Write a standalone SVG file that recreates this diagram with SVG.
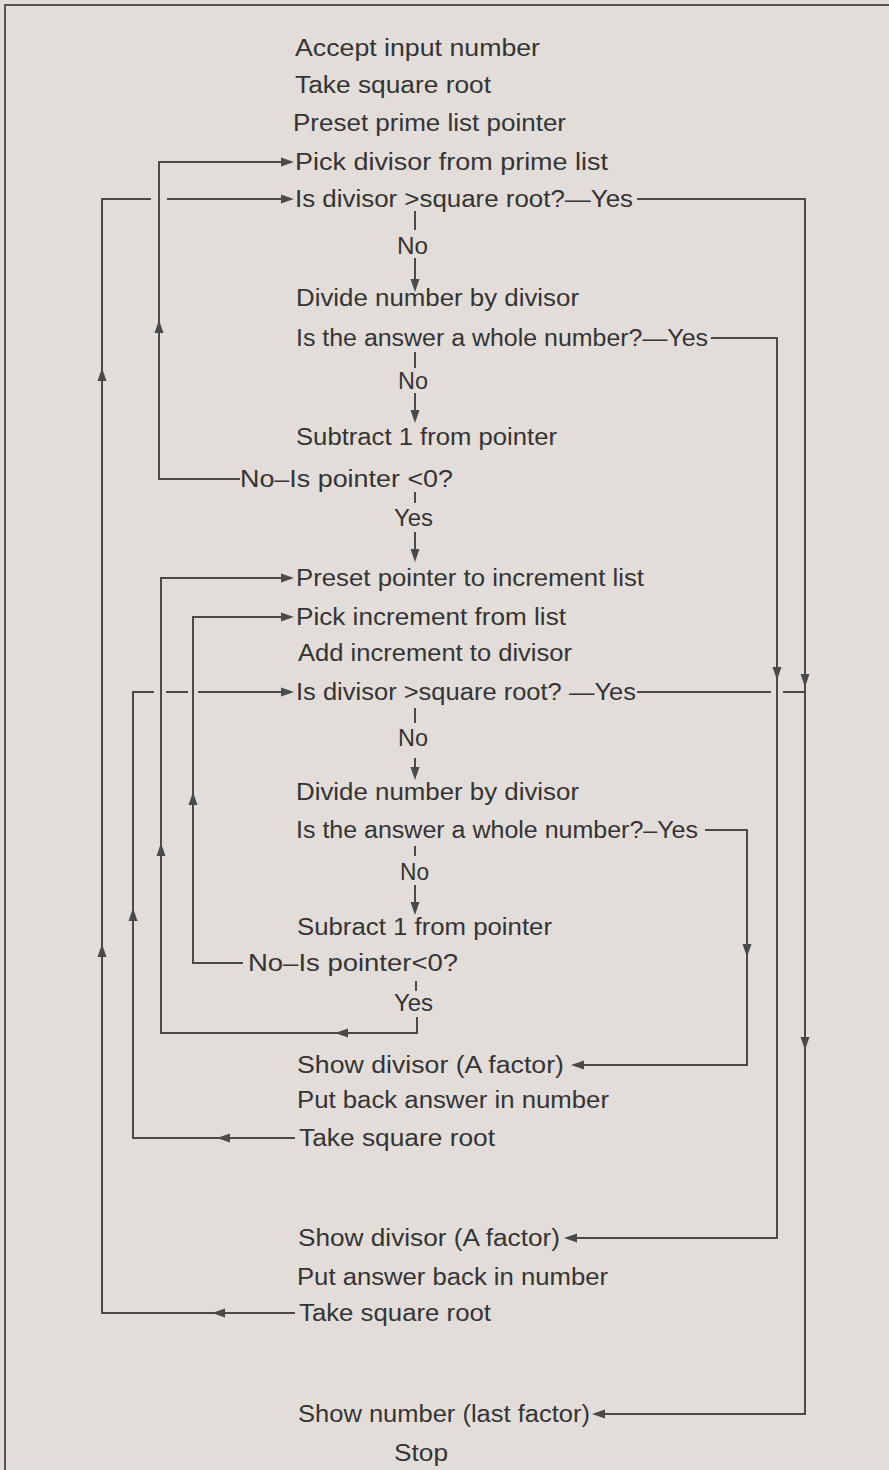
<svg xmlns="http://www.w3.org/2000/svg" xmlns:xlink="http://www.w3.org/1999/xlink" width="889" height="1470" viewBox="0 0 889 1470">
<style>
.t{font-family:"Liberation Sans",Arial,Helvetica,sans-serif;font-size:23px;fill:#343434;}
.c{fill:none;stroke:#4a4a4a;stroke-width:2;}
.ah{fill:#4a4a4a;}
.frame{fill:none;stroke:#555;stroke-width:2;}
</style>
<defs>
<path id="tri" class="ah" d="M0,0 L-13,-4.5 L-13,4.5 Z"/>
</defs>
<rect x="0" y="0" width="889" height="1470" fill="#e3ddd9"/>
<path class="frame" d="M5,1470 V5 H889"/>

<g id="connectors">
<!-- prime list loop -->
<path class="c" d="M240,479 H159 V162 H285"/>
<use xlink:href="#tri" transform="translate(294,162)"/>
<use xlink:href="#tri" transform="translate(159,320) rotate(-90)"/>
<path class="c" d="M295,1313 H102 V199 H151"/>
<path class="c" d="M167,199 H285"/>
<use xlink:href="#tri" transform="translate(294,199)"/>
<use xlink:href="#tri" transform="translate(102,368) rotate(-90)"/>
<use xlink:href="#tri" transform="translate(102,944) rotate(-90)"/>
<use xlink:href="#tri" transform="translate(212,1313) rotate(180)"/>
<!-- No from first test -->
<path class="c" d="M415,211 V230"/>
<path class="c" d="M415,258 V283"/>
<use xlink:href="#tri" transform="translate(415,292) rotate(90)"/>
<!-- Yes from first test -->
<path class="c" d="M637,199 H805 V1414 H600"/>
<use xlink:href="#tri" transform="translate(805,687) rotate(90)"/>
<use xlink:href="#tri" transform="translate(805,1050) rotate(90)"/>
<use xlink:href="#tri" transform="translate(592,1414) rotate(180)"/>
<!-- whole number 1 -->
<path class="c" d="M415,352 V368"/>
<path class="c" d="M415,393 V414"/>
<use xlink:href="#tri" transform="translate(415,423) rotate(90)"/>
<path class="c" d="M711,338 H777 V1238 H573"/>
<use xlink:href="#tri" transform="translate(777,680) rotate(90)"/>
<use xlink:href="#tri" transform="translate(564,1238) rotate(180)"/>
<!-- pointer test 1 -->
<path class="c" d="M415,492 V503"/>
<path class="c" d="M415,532 V553"/>
<use xlink:href="#tri" transform="translate(415,562) rotate(90)"/>

<!-- increment loop -->
<path class="c" d="M417,1017 V1033 H161 V578 H285"/>
<use xlink:href="#tri" transform="translate(294,578)"/>
<use xlink:href="#tri" transform="translate(335,1033) rotate(180)"/>
<use xlink:href="#tri" transform="translate(161,843) rotate(-90)"/>
<path class="c" d="M243,963 H193 V617 H285"/>
<use xlink:href="#tri" transform="translate(294,617)"/>
<use xlink:href="#tri" transform="translate(193,792) rotate(-90)"/>
<path class="c" d="M295,1138 H133 V692 H154"/>
<path class="c" d="M166,692 H188"/>
<path class="c" d="M198,692 H285"/>
<use xlink:href="#tri" transform="translate(294,692)"/>
<use xlink:href="#tri" transform="translate(217,1138) rotate(180)"/>
<use xlink:href="#tri" transform="translate(133,908) rotate(-90)"/>
<!-- second test -->
<path class="c" d="M415,708 V723"/>
<path class="c" d="M415,758 V771"/>
<use xlink:href="#tri" transform="translate(415,780) rotate(90)"/>
<path class="c" d="M637,692 H771"/>
<path class="c" d="M783,692 H805"/>
<!-- whole number 2 -->
<path class="c" d="M415,846 V856"/>
<path class="c" d="M415,885 V906"/>
<use xlink:href="#tri" transform="translate(415,915) rotate(90)"/>
<path class="c" d="M705,830 H747 V1065 H580"/>
<use xlink:href="#tri" transform="translate(747,957) rotate(90)"/>
<use xlink:href="#tri" transform="translate(571,1065) rotate(180)"/>
<!-- pointer test 2 -->
<path class="c" d="M416,981 V991"/>
</g>

<g id="n1"><text class="t" x="295" y="56" textLength="245" lengthAdjust="spacingAndGlyphs">Accept input number</text></g>
<g id="n2"><text class="t" x="295" y="93" textLength="196" lengthAdjust="spacingAndGlyphs">Take square root</text></g>
<g id="n3"><text class="t" x="293" y="131" textLength="273" lengthAdjust="spacingAndGlyphs">Preset prime list pointer</text></g>
<g id="n4"><text class="t" x="295" y="170" textLength="313" lengthAdjust="spacingAndGlyphs">Pick divisor from prime list</text></g>
<g id="n5"><text class="t" x="295" y="207" textLength="338" lengthAdjust="spacingAndGlyphs">Is divisor &gt;square root?—Yes</text></g>
<g id="l1"><text class="t" x="397" y="254" textLength="31" lengthAdjust="spacingAndGlyphs">No</text></g>
<g id="n6"><text class="t" x="296" y="306" textLength="283" lengthAdjust="spacingAndGlyphs">Divide number by divisor</text></g>
<g id="n7"><text class="t" x="296" y="346" textLength="412" lengthAdjust="spacingAndGlyphs">Is the answer a whole number?—Yes</text></g>
<g id="l2"><text class="t" x="398" y="389" textLength="30" lengthAdjust="spacingAndGlyphs">No</text></g>
<g id="n8"><text class="t" x="296" y="445" textLength="261" lengthAdjust="spacingAndGlyphs">Subtract 1 from pointer</text></g>
<g id="n9"><text class="t" x="240" y="487" textLength="213" lengthAdjust="spacingAndGlyphs">No–Is pointer &lt;0?</text></g>
<g id="l3"><text class="t" x="394" y="526" textLength="39" lengthAdjust="spacingAndGlyphs">Yes</text></g>
<g id="n10"><text class="t" x="296" y="586" textLength="348" lengthAdjust="spacingAndGlyphs">Preset pointer to increment list</text></g>
<g id="n11"><text class="t" x="296" y="625" textLength="270" lengthAdjust="spacingAndGlyphs">Pick increment from list</text></g>
<g id="n12"><text class="t" x="298" y="661" textLength="274" lengthAdjust="spacingAndGlyphs">Add increment to divisor</text></g>
<g id="n13"><text class="t" x="296" y="700" textLength="340" lengthAdjust="spacingAndGlyphs">Is divisor &gt;square root? —Yes</text></g>
<g id="l4"><text class="t" x="398" y="746" textLength="30" lengthAdjust="spacingAndGlyphs">No</text></g>
<g id="n14"><text class="t" x="296" y="800" textLength="283" lengthAdjust="spacingAndGlyphs">Divide number by divisor</text></g>
<g id="n15"><text class="t" x="296" y="838" textLength="402" lengthAdjust="spacingAndGlyphs">Is the answer a whole number?–Yes</text></g>
<g id="l5"><text class="t" x="400" y="880" textLength="29" lengthAdjust="spacingAndGlyphs">No</text></g>
<g id="n16"><text class="t" x="297" y="935" textLength="255" lengthAdjust="spacingAndGlyphs">Subract 1 from pointer</text></g>
<g id="n17"><text class="t" x="248" y="971" textLength="210" lengthAdjust="spacingAndGlyphs">No–Is pointer&lt;0?</text></g>
<g id="l6"><text class="t" x="394" y="1011" textLength="39" lengthAdjust="spacingAndGlyphs">Yes</text></g>
<g id="n18"><text class="t" x="297" y="1073" textLength="267" lengthAdjust="spacingAndGlyphs">Show divisor (A factor)</text></g>
<g id="n19"><text class="t" x="297" y="1108" textLength="312" lengthAdjust="spacingAndGlyphs">Put back answer in number</text></g>
<g id="n20"><text class="t" x="299" y="1146" textLength="196" lengthAdjust="spacingAndGlyphs">Take square root</text></g>
<g id="n21"><text class="t" x="298" y="1246" textLength="262" lengthAdjust="spacingAndGlyphs">Show divisor (A factor)</text></g>
<g id="n22"><text class="t" x="297" y="1285" textLength="311" lengthAdjust="spacingAndGlyphs">Put answer back in number</text></g>
<g id="n23"><text class="t" x="299" y="1321" textLength="192" lengthAdjust="spacingAndGlyphs">Take square root</text></g>
<g id="n24"><text class="t" x="298" y="1422" textLength="292" lengthAdjust="spacingAndGlyphs">Show number (last factor)</text></g>
<g id="n25"><text class="t" x="394" y="1461" textLength="54" lengthAdjust="spacingAndGlyphs">Stop</text></g>
</svg>
